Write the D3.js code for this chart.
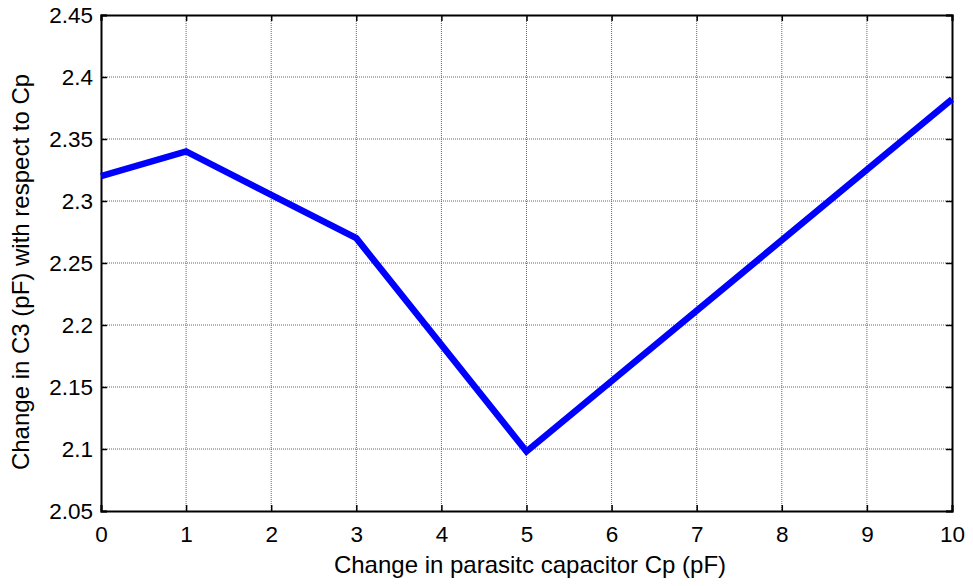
<!DOCTYPE html>
<html>
<head>
<meta charset="utf-8">
<script src="https://cdn.jsdelivr.net/npm/d3@7"></script>
<style>
	body { margin: 0; background: #fff; }
	text { font-family: "Liberation Sans", Arial, sans-serif; }
</style>
</head>
<body>
<div id="chart"></div>
<script>
// data
const cp = [0, 1, 3, 5, 10];
const c3 = [2.32, 2.34, 2.27, 2.098, 2.382];
const xTicks = [0, 1, 2, 3, 4, 5, 6, 7, 8, 9, 10];
const yTicks = [2.05, 2.1, 2.15, 2.2, 2.25, 2.3, 2.35, 2.4, 2.45];

const margin = { top: 15, right: 21, bottom: 75, left: 101 },
	width = 973 - margin.left - margin.right,
	height = 586 - margin.top - margin.bottom;

const svg = d3.select("#chart")
	.append("svg")
	.attr("width", 973)
	.attr("height", 586);

const g = svg.append("g")
	.attr("transform", `translate(${margin.left}, ${margin.top})`);

const x = d3.scaleLinear().domain([0, 10]).range([0, width]);
const y = d3.scaleLinear().domain([2.05, 2.45]).range([height, 0]);

// grid
g.append("g")
	.selectAll("line")
	.data(xTicks.slice(1, -1))
	.enter().append("line")
	.attr("x1", d => x(d)).attr("x2", d => x(d))
	.attr("y1", 0).attr("y2", height)
	.attr("stroke", "#666")
	.attr("stroke-width", 1)
	.attr("stroke-dasharray", "1,1");

g.append("g")
	.selectAll("line")
	.data(yTicks.slice(1, -1))
	.enter().append("line")
	.attr("y1", d => y(d)).attr("y2", d => y(d))
	.attr("x1", 0).attr("x2", width)
	.attr("stroke", "#666")
	.attr("stroke-width", 1)
	.attr("stroke-dasharray", "1,1");

// axes, ticks inside like matlab
const fmt = d => String(+d.toFixed(2));
const axB = g.append("g")
	.attr("transform", `translate(0, ${height})`)
	.call(d3.axisBottom(x).tickValues(xTicks).tickSize(-6).tickPadding(15).tickFormat(fmt));
const axL = g.append("g")
	.call(d3.axisLeft(y).tickValues(yTicks).tickSize(-6).tickPadding(8).tickFormat(fmt));
const axT = g.append("g")
	.call(d3.axisTop(x).tickValues(xTicks).tickSize(-6).tickFormat(""));
const axR = g.append("g")
	.attr("transform", `translate(${width}, 0)`)
	.call(d3.axisRight(y).tickValues(yTicks).tickSize(-6).tickFormat(""));

[axB, axL, axT, axR].forEach(a => {
	a.select(".domain").attr("stroke", "#000").attr("stroke-width", 2);
	a.selectAll(".tick line").attr("stroke", "#000").attr("stroke-width", 1.5);
	a.selectAll("text").attr("font-size", "22.5px").attr("fill", "#000")
		.style("font-family", "'Liberation Sans', Arial, sans-serif");
});

// line
const line = d3.line()
	.x((d, i) => x(cp[i]))
	.y(d => y(d));

g.append("path")
	.datum(c3)
	.attr("fill", "none")
	.attr("stroke", "#0000ff")
	.attr("stroke-width", 6.5)
	.attr("stroke-linejoin", "miter")
	.attr("d", line);

// labels
svg.append("text")
	.attr("x", 530)
	.attr("y", 573)
	.attr("text-anchor", "middle")
	.attr("font-size", "24px")
	.text("Change in parasitc capacitor Cp (pF)");

svg.append("text")
	.attr("transform", `translate(29, 272) rotate(-90)`)
	.attr("text-anchor", "middle")
	.attr("font-size", "24px")
	.text("Change in C3 (pF) with respect to Cp");
</script>
</body>
</html>
